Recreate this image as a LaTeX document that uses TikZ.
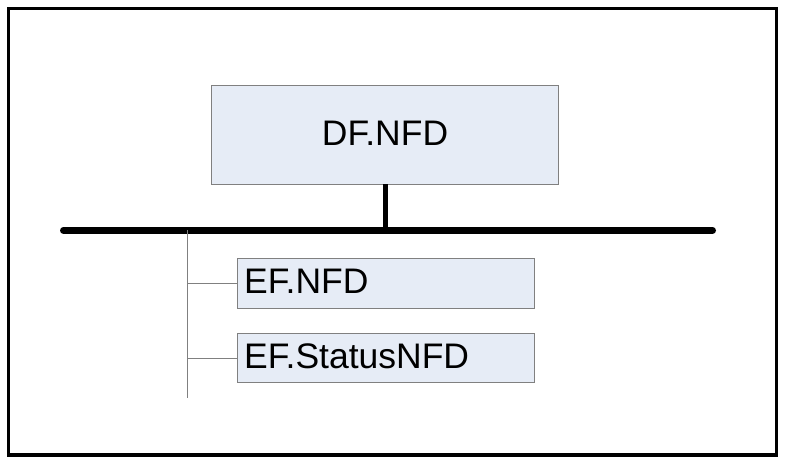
\documentclass[tikz,border=0pt]{standalone}
\usepackage{fontspec}
\setmainfont{Liberation Sans}
\definecolor{boxfill}{HTML}{E6ECF6}
\definecolor{boxline}{HTML}{808080}
\begin{document}
\begin{tikzpicture}[x=1pt,y=-1pt,
  fbox/.style={draw=boxline,line width=1pt,fill=boxfill},
  lbl/.style={inner sep=0pt,font=\fontsize{35.5}{35.5}\selectfont},
  thin/.style={draw=boxline,line width=1pt}]
\useasboundingbox (0,0) rectangle (785,463);
\draw[line width=3.5pt] (8.5,8.5) rectangle (776.7,455);
% boxes
\draw[fbox] (211,85) rectangle (558,184);
\node[lbl,anchor=base] (df) at (385,145.7) {DF.NFD};
\coordinate (dfb) at (385.5,184);
\draw[fbox] (237,258) rectangle (534,308);
\node[lbl,anchor=base west] (ef1) at (244,293.5) {EF.NFD};
\draw[fbox] (237,333) rectangle (534,382);
\node[lbl,anchor=base west] (ef2) at (244,368) {EF.StatusNFD};
% bus
\coordinate (busl) at (63.5,230.4);
\coordinate (busr) at (712.5,230.4);
\coordinate (busm) at (385.5,230.4);
\draw[line width=5pt] (dfb) -- (busm);
\draw[line width=7pt,line cap=round] (busl) -- (busr);
% tree
\coordinate (t0) at (187,230.4);
\coordinate (t1) at (187,283.5);
\coordinate (t2) at (187,358);
\coordinate (t3) at (187,398);
\coordinate (e1) at (237,283.5);
\coordinate (e2) at (237,358);
\draw[thin] (t0) -- (t3);
\draw[thin] (t1) -- (e1);
\draw[thin] (t2) -- (e2);
\end{tikzpicture}
\end{document}
